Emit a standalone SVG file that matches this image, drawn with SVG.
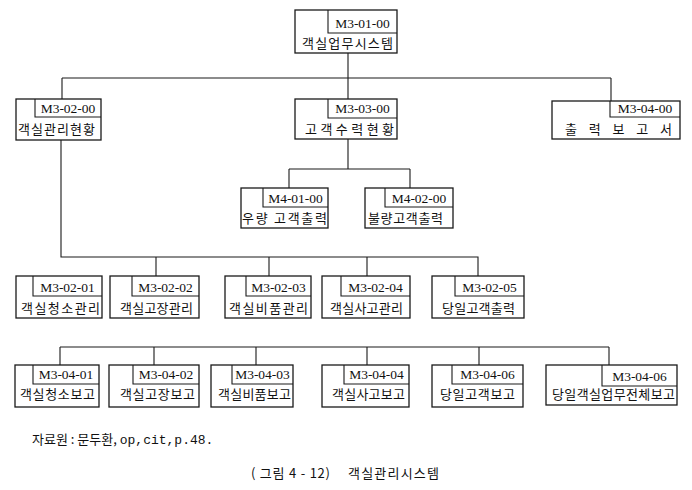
<svg xmlns="http://www.w3.org/2000/svg" width="692" height="490" viewBox="0 0 692 490">
<style>
.box{fill:#fff;stroke:#1a1a1a;stroke-width:1.3}
.lab{fill:none;stroke:#1a1a1a;stroke-width:1.1}
.code{font-family:"Liberation Serif",serif;font-size:13.5px;text-anchor:middle;fill:#111}
.name{font-family:"Noto Sans CJK KR",sans-serif;font-size:13px;fill:#111}
.cap{font-family:"Noto Sans CJK KR",sans-serif;font-size:13px;fill:#111}
.mono{font-family:"Liberation Mono",monospace}
#connectors path{fill:none;stroke:#1a1a1a;stroke-width:1.1}
</style>
<rect width="692" height="490" fill="#fff"/>
<g id="connectors">
<path d="M348,53 V78 M62,78 H611 M62,78 V99 M348,78 V99 M611,78 V101"/>
<path d="M61,140 V257 H478 V276 M156,257 V276 M269,257 V276 M367,257 V276"/>
<path d="M348,139 V169 M289,169 H410 M289,169 V188 M410,169 V188"/>
<path d="M60,347 H609 M60,347 V365 M154,347 V365 M256,347 V365 M367,347 V365 M479,347 V365 M609,347 V365"/>
</g>
<g id="n0"><rect class="box" x="295" y="10" width="102" height="43"/><path class="lab" d="M328,10 V33 H397"/><text class="code" x="362.5" y="27.5">M3-01-00</text><text class="name" x="302" y="48" textLength="91" lengthAdjust="spacing">객실업무시스템</text></g>
<g id="n1"><rect class="box" x="16" y="99" width="85" height="41"/><path class="lab" d="M35,99 V117 H101"/><text class="code" x="68" y="112.5">M3-02-00</text><text class="name" x="18" y="134" textLength="77" lengthAdjust="spacing">객실관리현황</text></g>
<g id="n2"><rect class="box" x="295" y="99" width="102" height="40"/><path class="lab" d="M328,99 V118 H397"/><text class="code" x="362.5" y="113">M3-03-00</text><text class="name" x="305" y="133.5" textLength="89" lengthAdjust="spacing">고객수력현황</text></g>
<g id="n3"><rect class="box" x="552" y="101" width="128" height="38"/><path class="lab" d="M610,101 V117 H680"/><text class="code" x="645" y="113">M3-04-00</text><text class="name" x="565" y="134" textLength="107" lengthAdjust="spacing">출력보고서</text></g>
<g id="m1"><rect class="box" x="241" y="188" width="87" height="40"/><path class="lab" d="M263,188 V207 H328"/><text class="code" x="295.5" y="202.5">M4-01-00</text><text class="name" x="242" y="222.5" textLength="85" lengthAdjust="spacing">우량 고객출력</text></g>
<g id="m2"><rect class="box" x="365" y="188" width="88" height="40"/><path class="lab" d="M385,188 V207 H453"/><text class="code" x="419" y="202.5">M4-02-00</text><text class="name" x="368" y="222.5" textLength="75" lengthAdjust="spacing">불량고객출력</text></g>
<g id="r3a"><rect class="box" x="16" y="276" width="86" height="42"/><path class="lab" d="M33,276 V296 H102"/><text class="code" x="67.5" y="291.5">M3-02-01</text><text class="name" x="21" y="313" textLength="79" lengthAdjust="spacing">객실청소관리</text></g>
<g id="r3b"><rect class="box" x="110" y="276" width="89" height="42"/><path class="lab" d="M132,276 V296 H199"/><text class="code" x="165.5" y="291.5">M3-02-02</text><text class="name" x="120" y="313" textLength="73" lengthAdjust="spacing">객실고장관리</text></g>
<g id="r3c"><rect class="box" x="225" y="276" width="86" height="42"/><path class="lab" d="M246,276 V296 H311"/><text class="code" x="278.5" y="291.5">M3-02-03</text><text class="name" x="229" y="313" textLength="79" lengthAdjust="spacing">객실비품관리</text></g>
<g id="r3d"><rect class="box" x="322" y="276" width="88" height="42"/><path class="lab" d="M341,276 V296 H410"/><text class="code" x="375.5" y="291.5">M3-02-04</text><text class="name" x="330" y="313" textLength="73" lengthAdjust="spacing">객실사고관리</text></g>
<g id="r3e"><rect class="box" x="432" y="276" width="92" height="42"/><path class="lab" d="M455,276 V296 H524"/><text class="code" x="489.5" y="291.5">M3-02-05</text><text class="name" x="442" y="313" textLength="73" lengthAdjust="spacing">당일고객출력</text></g>
<g id="r4a"><rect class="box" x="15" y="365" width="84" height="42"/><path class="lab" d="M33,365 V384 H99"/><text class="code" x="66" y="379">M3-04-01</text><text class="name" x="20" y="399" textLength="75" lengthAdjust="spacing">객실청소보고</text></g>
<g id="r4b"><rect class="box" x="109" y="365" width="90" height="42"/><path class="lab" d="M133,365 V384 H199"/><text class="code" x="166" y="379">M3-04-02</text><text class="name" x="120" y="399" textLength="75" lengthAdjust="spacing">객실고장보고</text></g>
<g id="r4c"><rect class="box" x="211" y="365" width="82" height="42"/><path class="lab" d="M232,365 V384 H293"/><text class="code" x="262.5" y="379">M3-04-03</text><text class="name" x="218" y="399" textLength="73" lengthAdjust="spacing">객실비품보고</text></g>
<g id="r4d"><rect class="box" x="322" y="365" width="87" height="42"/><path class="lab" d="M344,365 V384 H409"/><text class="code" x="376.5" y="379">M3-04-04</text><text class="name" x="332" y="399" textLength="73" lengthAdjust="spacing">객실사고보고</text></g>
<g id="r4e"><rect class="box" x="432" y="365" width="91" height="42"/><path class="lab" d="M452,365 V384 H523"/><text class="code" x="487.5" y="379">M3-04-06</text><text class="name" x="440" y="399" textLength="75" lengthAdjust="spacing">당일고객보고</text></g>
<g id="r4f"><rect class="box" x="546" y="365" width="131" height="40"/><path class="lab" d="M602,365 V386 H677"/><text class="code" x="639.5" y="380.5">M3-04-06</text><text class="name" x="552" y="399" textLength="123" lengthAdjust="spacing">당일객실업무전체보고</text></g>
<g id="captions">
<text class="cap" x="32" y="444">자료원 : 문두환, <tspan class="mono">op,cit,p.48.</tspan></text>
<text class="cap" x="251" y="478" textLength="79" lengthAdjust="spacing">( 그림 4 - 12)</text>
<text class="cap" x="348" y="478" textLength="91" lengthAdjust="spacing">객실관리시스템</text>
</g>
</svg>
